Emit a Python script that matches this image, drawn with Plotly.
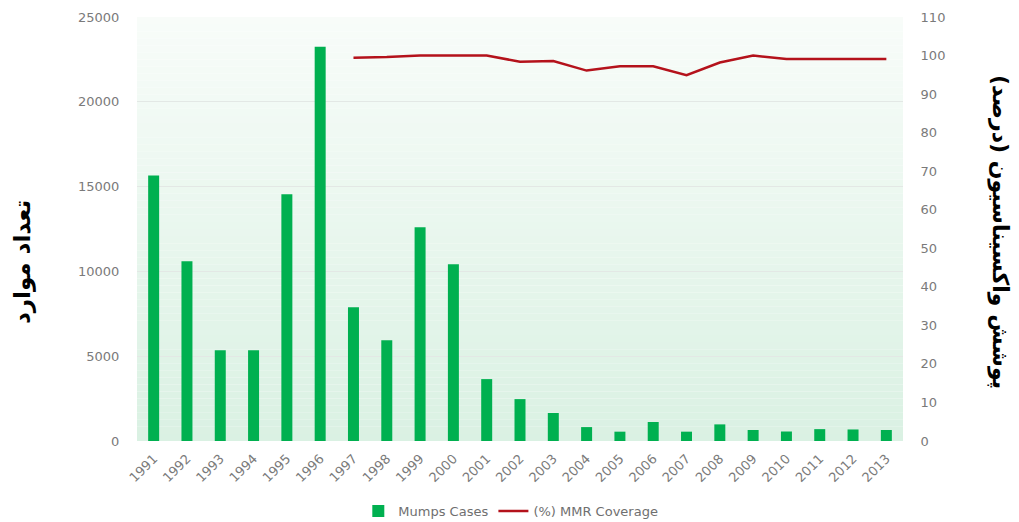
import plotly.graph_objects as go

years = [str(y) for y in range(1991, 2014)]
mumps_cases = [15650, 10600, 5350, 5350, 14550, 23250, 7880, 5940, 12600, 10420,
               3650, 2470, 1650, 820, 550, 1120, 550, 980, 650, 560, 700, 680, 650]
mmr_years = [str(y) for y in range(1997, 2014)]
mmr_coverage = [99.4, 99.6, 100.0, 100.0, 100.0, 98.4, 98.6, 96.1, 97.2, 97.2,
                94.9, 98.2, 100.0, 99.1, 99.1, 99.1, 99.1]

left_title = "تعداد موارد"
right_title = "\u200fپوشش واکسیناسیون (درصد)\u200f"

tick_font = dict(family="DejaVu Sans", size=13, color="#7a7a7a")

fig = go.Figure()
fig.add_trace(go.Bar(x=years, y=mumps_cases, name="Mumps Cases",
                     marker=dict(color="#00b050", line=dict(width=0)), yaxis="y"))
fig.add_trace(go.Scatter(x=mmr_years, y=mmr_coverage, name="(%) MMR Coverage",
                         mode="lines", line=dict(color="#b4121b", width=2.5), yaxis="y2"))

# gradient background stripes
shapes = []
n = 60
top = (248, 252, 249)
bot = (218, 241, 227)
for i in range(n):
    t = i / (n - 1)
    c = tuple(round(top[k] + (bot[k] - top[k]) * t) for k in range(3))
    y1 = 1 - i / n
    y0 = 1 - (i + 1) / n
    shapes.append(dict(type="rect", xref="x domain", yref="y domain",
                       x0=0, x1=1, y0=y0, y1=y1, layer="below",
                       fillcolor="rgb(%d,%d,%d)" % c, line=dict(width=0)))

fig.update_layout(
    width=1019, height=522,
    margin=dict(l=137, r=116, t=17, b=81, autoexpand=False),
    paper_bgcolor="white", plot_bgcolor="rgba(0,0,0,0)",
    shapes=shapes,
    bargap=0.67,
    showlegend=True,
    legend=dict(orientation="h", x=0.488, xanchor="center", y=-0.165, yanchor="middle",
                font=dict(family="DejaVu Sans", size=13, color="#6f6f6f"),
                bgcolor="rgba(0,0,0,0)", itemwidth=30),
    xaxis=dict(type="category", tickangle=-45, tickfont=tick_font, showgrid=False,
               showline=False, zeroline=False, ticks="outside", ticklen=4,
               tickcolor="rgba(0,0,0,0)", automargin=False),
    yaxis=dict(range=[0, 25000], dtick=5000, tickformat="d", tickfont=tick_font, showgrid=True,
               gridcolor="#e3e8e5", gridwidth=1, zeroline=False, showline=False,
               ticks="outside", ticklen=14, tickcolor="rgba(0,0,0,0)", automargin=False),
    yaxis2=dict(range=[0, 110], dtick=10, overlaying="y", side="right", tickfont=tick_font,
                showgrid=False, zeroline=False, showline=False, ticks="outside", ticklen=14,
                tickcolor="rgba(0,0,0,0)", automargin=False),
    annotations=[
        dict(text=left_title, xref="paper", yref="paper", x=(22 - 137) / 766, y=(441 - 262) / 424,
             xanchor="center", yanchor="middle", showarrow=False, textangle=-90,
             font=dict(family="DejaVu Sans", size=23, color="black", weight="bold")),
        dict(text=right_title, xref="paper", yref="paper", x=(1000 - 137) / 766, y=(441 - 232) / 424,
             xanchor="center", yanchor="middle", showarrow=False, textangle=90,
             font=dict(family="DejaVu Sans", size=22, color="black", weight="bold")),
    ],
)

fig.write_html("out.html")
